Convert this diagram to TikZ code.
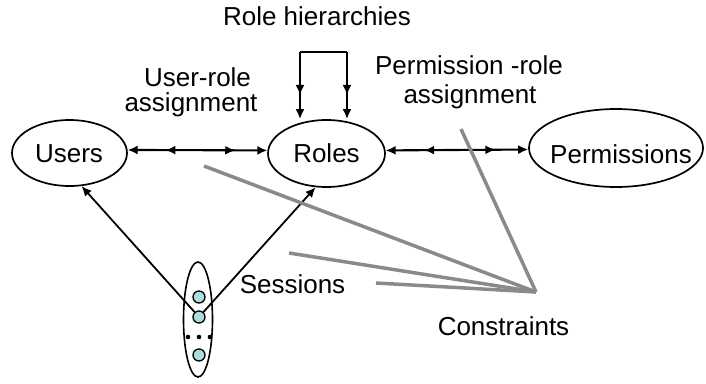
\documentclass[tikz,border=0pt]{standalone}
\usepackage{fontspec}
\setmainfont{Liberation Sans}
\usetikzlibrary{shapes.geometric,arrows.meta,decorations.markings}
\definecolor{sessfill}{RGB}{172,220,222}
\definecolor{cgray}{RGB}{138,138,138}
\tikzset{
  ent/.style={ellipse, draw, line width=1.7pt, inner sep=0pt},
  lbl/.style={anchor=base, inner sep=0pt, font=\fontsize{26}{28}\selectfont},
  tipA/.tip={Latex[length=10pt,width=9pt]},
  manyarrow/.style={line width=2.1pt, tipA-tipA, postaction={decorate},
    decoration={markings,
      mark=at position 0.27 with {\arrowreversed{tipA}},
      mark=at position 0.77 with {\arrow{tipA}}}},
  hierarrow/.style={line width=2.1pt, -tipA, postaction={decorate},
    decoration={markings, mark=at position 0.64 with {\arrow{tipA}}}},
  sessarrow/.style={line width=1.8pt, -tipA},
  sessdot/.style={circle, draw, line width=1.3pt, fill=sessfill, minimum size=12pt, inner sep=0pt},
  gline/.style={line width=3.5pt, cgray},
}
\begin{document}
\begin{tikzpicture}[x=1pt,y=-1pt]
\useasboundingbox (0,0) rectangle (706,383);
% entities
\node[ent, minimum width=115pt, minimum height=66pt] (users) at (69.5,153) {};
\node[ent, minimum width=117pt, minimum height=67pt] (roles) at (326.5,153.5) {};
\node[ent, minimum width=174pt, minimum height=78pt] (perms) at (616,148) {};
\node[ent, line width=1.6pt, minimum width=29pt, minimum height=115pt] (sess) at (198,319.5) {};
% texts
\node[lbl] (tusers) at (69,162) {Users};
\node[lbl] (troles) at (326.5,162) {Roles};
\node[lbl] (tperms) at (621,163) {Permissions};
\node[lbl] (trh) at (317,25) {Role hierarchies};
\node[lbl] (tura) at (197.5,86.5) {User-role};
\node[lbl] (turb) at (191,111) {assignment};
\node[lbl] (tpra) at (469,74) {Permission -role};
\node[lbl] (tprb) at (470,103.5) {assignment};
\node[lbl] (tsess) at (292.5,293) {Sessions};
\node[lbl] (tcons) at (503.5,335) {Constraints};
% session circles
\node[sessdot] (c1) at (199,297) {};
\node[sessdot] (c2) at (199,317) {};
\node[sessdot] (c3) at (199,355) {};
\foreach \dx/\nm in {188/d1,199/d2,210/d3}
  \fill (\dx,337) circle (2.3pt);
% many-to-many connectors
\draw[manyarrow] (users.3) -- (roles.177);
\draw[manyarrow] (roles.3) -- (perms.181);
% role hierarchy
\coordinate (hl) at (300,52);
\coordinate (hr) at (347,52);
\draw[line width=2.1pt] (hl) -- (hr);
\draw[hierarrow] (hl) -- (hl |- roles.north);
\draw[hierarrow] (hr) -- (hr |- roles.north);
% session arrows
\draw[sessarrow] (c2) -- (users.-70);
\draw[sessarrow] (c2) -- (roles.-108);
% constraints
\coordinate (k) at (536,292);
\coordinate (g1) at (461,129);
\coordinate (g2) at (204,166);
\coordinate (g3) at (289,253);
\coordinate (g4) at (376,283);
\draw[gline] (g1) -- (k);
\draw[gline] (g2) -- (k);
\draw[gline] (g3) -- (k);
\draw[gline] (g4) -- (k);
\end{tikzpicture}
\end{document}
